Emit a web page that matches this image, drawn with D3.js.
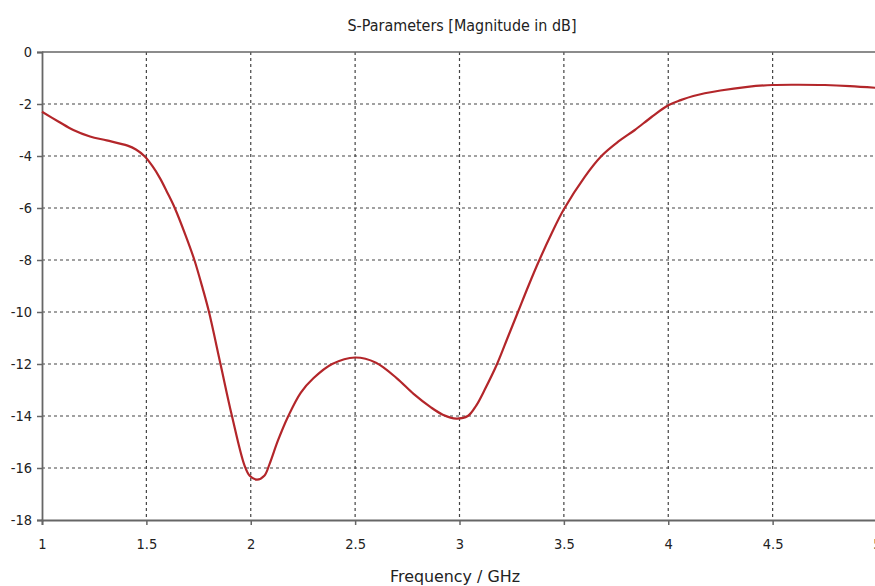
<!DOCTYPE html>
<html>
<head>
<meta charset="UTF-8">
<script src="https://cdn.jsdelivr.net/npm/d3@7"></script>
<style>
  body { margin: 0; background: #fff; }
  text { font-family: "DejaVu Sans", sans-serif; fill: #222; }
</style>
</head>
<body>
<svg id="chart" width="875" height="586"></svg>
<script>
// data
let freq = [1.0, 1.08, 1.15, 1.23, 1.31, 1.41, 1.45, 1.49, 1.53, 1.565, 1.6, 1.636, 1.69, 1.73, 1.77, 1.80, 1.855, 1.91, 1.97, 1.995, 2.03, 2.065, 2.09, 2.13, 2.18, 2.24, 2.3, 2.39, 2.5, 2.6, 2.7, 2.78, 2.86, 2.92, 2.985, 3.04, 3.08, 3.12, 3.18, 3.23, 3.28, 3.33, 3.38, 3.44, 3.5, 3.6, 3.68, 3.76, 3.84, 3.92, 4.0, 4.06, 4.12, 4.25, 4.38, 4.5, 4.62, 4.75, 4.87, 5.0];
let s11 = [-2.3, -2.68, -3.0, -3.25, -3.4, -3.6, -3.75, -4.0, -4.4, -4.85, -5.4, -6.0, -7.1, -8.0, -9.1, -10.0, -12.0, -14.0, -15.9, -16.3, -16.45, -16.3, -15.85, -14.95, -14.0, -13.1, -12.55, -12.0, -11.75, -11.95, -12.55, -13.15, -13.65, -13.95, -14.1, -14.0, -13.6, -13.0, -12.0, -11.0, -10.0, -9.0, -8.05, -7.0, -6.05, -4.8, -4.0, -3.45, -3.0, -2.5, -2.05, -1.85, -1.69, -1.48, -1.34, -1.27, -1.26, -1.27, -1.31, -1.38];
let xTicks = [1, 1.5, 2, 2.5, 3, 3.5, 4, 4.5, 5];
let yTicks = [0, -2, -4, -6, -8, -10, -12, -14, -16, -18];
let title = "S-Parameters [Magnitude in dB]";
let xLabel = "Frequency / GHz";

let svg = d3.select("#chart");
let x = d3.scaleLinear([1, 5], [42, 877]);
let y = d3.scaleLinear([-18, 0], [520, 52]);

// grid
svg.append("g").selectAll("line").data(xTicks.slice(1))
  .join("line")
  .attr("x1", d => x(d)).attr("x2", d => x(d))
  .attr("y1", y(0)).attr("y2", y(-18))
  .attr("stroke", "#444").attr("stroke-width", 1.2)
  .attr("stroke-dasharray", "3,3");
svg.append("g").selectAll("line").data(yTicks.slice(1, -1))
  .join("line")
  .attr("x1", x(1)).attr("x2", x(5))
  .attr("y1", d => y(d)).attr("y2", d => y(d))
  .attr("stroke", "#444").attr("stroke-width", 1.2)
  .attr("stroke-dasharray", "3,3");

// top border
svg.append("line")
  .attr("x1", x(1)).attr("x2", x(5))
  .attr("y1", y(0)).attr("y2", y(0))
  .attr("stroke", "#666").attr("stroke-width", 1.5);

// axes
let xAxis = d3.axisBottom(x).tickValues(xTicks).tickSize(5).tickPadding(14)
  .tickFormat(d => String(d));
let gx = svg.append("g").attr("transform", `translate(0,${y(-18)})`).call(xAxis);
let yAxis = d3.axisLeft(y).tickValues(yTicks).tickSize(5).tickPadding(5)
  .tickFormat(d => String(d));
let gy = svg.append("g").attr("transform", `translate(${x(1)},0)`).call(yAxis);
[gx, gy].forEach(g => {
  g.select(".domain").attr("stroke", "#666").attr("stroke-width", 1.8);
  g.selectAll(".tick line").attr("stroke", "#666").attr("stroke-width", 1.5);
  g.selectAll(".tick text")
    .style("font-family", "'DejaVu Sans Condensed', 'DejaVu Sans', sans-serif")
    .style("font-stretch", "condensed")
    .style("font-size", "14.5px").attr("fill", "#222");
});

// curve
let line = d3.line()
  .x((d, i) => x(freq[i]))
  .y(d => y(d))
  .curve(d3.curveCatmullRom.alpha(0.5));
svg.append("path")
  .datum(s11)
  .attr("d", line)
  .attr("fill", "none")
  .attr("stroke", "#b3262a")
  .attr("stroke-width", 2.2);

// labels
svg.append("text")
  .attr("x", 462).attr("y", 31)
  .attr("text-anchor", "middle")
  .attr("textLength", 229).attr("lengthAdjust", "spacingAndGlyphs")
  .style("font-size", "15px")
  .text(title);
svg.append("text")
  .attr("x", 455).attr("y", 582)
  .attr("text-anchor", "middle")
  .attr("textLength", 130).attr("lengthAdjust", "spacingAndGlyphs")
  .style("font-size", "15px")
  .text(xLabel);
</script>
</body>
</html>
